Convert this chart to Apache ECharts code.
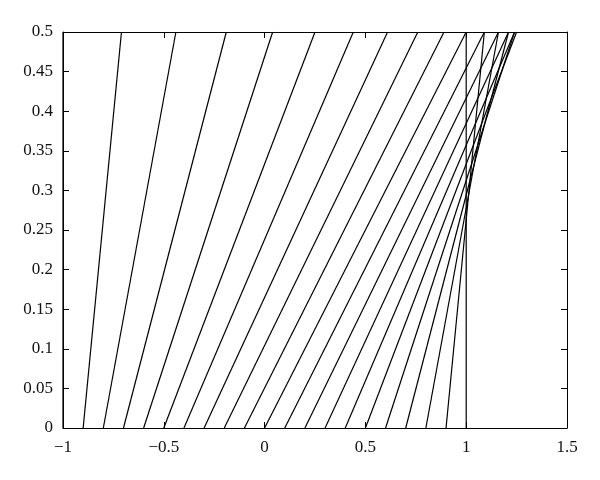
<!DOCTYPE html>
<html>
<head>
<meta charset="utf-8">
<script src="https://cdn.jsdelivr.net/npm/echarts@6/dist/echarts.min.js"></script>
<style>html,body{margin:0;padding:0;background:#fff}#c{width:600px;height:480px}</style>
</head>
<body>
<div id="c"></div>
<script>
// Characteristic lines: start x at y=0, end x at y=0.5
var startX = [-1, -0.9, -0.8, -0.7, -0.6, -0.5, -0.4, -0.3, -0.2, -0.1, 0, 0.1, 0.2, 0.3, 0.4, 0.5, 0.6, 0.7, 0.8, 0.9, 1.0];
var endX   = [-1, -0.71, -0.44, -0.19, 0.04, 0.25, 0.44, 0.61, 0.76, 0.89, 1.0, 1.09, 1.16, 1.21, 1.24, 1.25, 1.24, 1.21, 1.16, 1.09, 1.0];
var yStart = 0;
var yEnd = 0.5;
var xTicks = [-1, -0.5, 0, 0.5, 1, 1.5];
var yTicks = [0, 0.05, 0.1, 0.15, 0.2, 0.25, 0.3, 0.35, 0.4, 0.45, 0.5];

var font = 'Liberation Serif';
var series = startX.map(function (x0, i) {
  return {
    type: 'line',
    xAxisIndex: 0, yAxisIndex: 0,
    data: [[x0, yStart], [endX[i], yEnd]],
    symbol: 'none',
    lineStyle: {color: '#000', width: 1.2},
    silent: true
  };
});

function fmt(v) {
  return String(+v.toFixed(2)).replace('-', '\u2212');
}

var axisCommon = {
  type: 'value',
  axisLine: {show: true, onZero: false, lineStyle: {color: '#000', width: 1}},
  axisTick: {show: true, inside: true, length: 6, lineStyle: {color: '#000', width: 1}},
  splitLine: {show: false}
};

var option = {
  animation: false,
  backgroundColor: '#fff',
  grid: {left: 63, right: 33, top: 32, bottom: 52},
  xAxis: [
    Object.assign({}, axisCommon, {
      position: 'bottom', min: xTicks[0], max: xTicks[xTicks.length - 1], interval: 0.5,
      axisLabel: {color: '#111', fontFamily: font, fontSize: 17, margin: 11, formatter: fmt}
    }),
    Object.assign({}, axisCommon, {
      position: 'top', min: xTicks[0], max: xTicks[xTicks.length - 1], interval: 0.5,
      axisLabel: {show: false}
    })
  ],
  yAxis: [
    Object.assign({}, axisCommon, {
      position: 'left', min: yTicks[0], max: yTicks[yTicks.length - 1], interval: 0.05,
      axisLabel: {color: '#111', fontFamily: font, fontSize: 17, margin: 10, formatter: fmt}
    }),
    Object.assign({}, axisCommon, {
      position: 'right', min: yTicks[0], max: yTicks[yTicks.length - 1], interval: 0.05,
      axisLabel: {show: false}
    })
  ],
  series: series
};

echarts.init(document.getElementById('c'), null, {renderer: 'canvas'}).setOption(option);
</script>
</body>
</html>
